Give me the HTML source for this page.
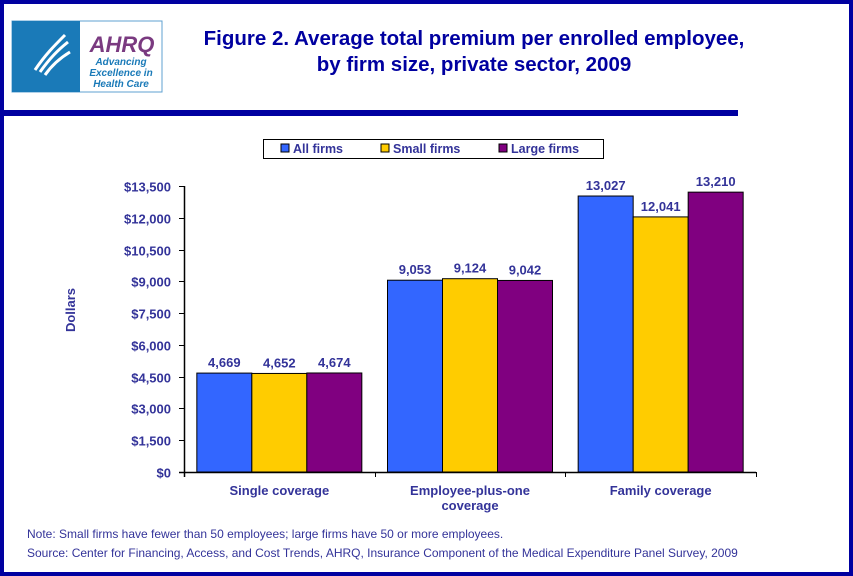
<!DOCTYPE html>
<html><head><meta charset="utf-8"><style>
html,body{margin:0;padding:0;background:#fff}
svg{display:block}
text{font-family:"Liberation Sans",Arial,sans-serif}
</style></head><body>
<svg id="chart" width="853" height="576" viewBox="0 0 853 576" xmlns="http://www.w3.org/2000/svg">
<rect x="2" y="2" width="849" height="572" fill="#fff" stroke="#0000A0" stroke-width="4"/>
<g>
<rect x="12" y="21" width="150" height="71" fill="#fff" stroke="#5fa0d0" stroke-width="1"/>
<rect x="12" y="21" width="68" height="71" fill="#1a7ab8"/>
<path d="M35 70 C45 55 55 45 65 35 M40 72 C50 58 58 50 68 42 M45 75 C52 65 60 58 70 52" stroke="#fff" stroke-width="3" fill="none"/>
<text x="122" y="52" font-size="22" font-weight="bold" font-style="italic" fill="#7a3a80" text-anchor="middle">AHRQ</text>
<text x="121" y="65" font-size="10" font-weight="bold" font-style="italic" fill="#1a7ab8" text-anchor="middle">Advancing</text>
<text x="121" y="76" font-size="10" font-weight="bold" font-style="italic" fill="#1a7ab8" text-anchor="middle">Excellence in</text>
<text x="121" y="87" font-size="10" font-weight="bold" font-style="italic" fill="#1a7ab8" text-anchor="middle">Health Care</text>
</g>
<text x="474" y="45" font-size="20.5" font-weight="bold" fill="#0000A0" text-anchor="middle">Figure 2. Average total premium per enrolled employee,</text>
<text x="474" y="71" font-size="20.5" font-weight="bold" fill="#0000A0" text-anchor="middle">by firm size, private sector, 2009</text>
<rect x="4" y="110" width="734" height="6" fill="#0000A0"/>
<g>
<rect x="263.5" y="139.5" width="340" height="19" fill="#fff" stroke="#000"/>
<rect x="281" y="144" width="8" height="8" fill="#3366FF" stroke="#000"/>
<text x="293" y="153" font-size="12.5" font-weight="bold" fill="#333399">All firms</text>
<rect x="381" y="144" width="8" height="8" fill="#FFCC00" stroke="#000"/>
<text x="393" y="153" font-size="12.5" font-weight="bold" fill="#333399">Small firms</text>
<rect x="499" y="144" width="8" height="8" fill="#800080" stroke="#000"/>
<text x="511" y="153" font-size="12.5" font-weight="bold" fill="#333399">Large firms</text>
</g>
<text transform="translate(75,310) rotate(-90)" font-size="13" font-weight="bold" fill="#333399" text-anchor="middle">Dollars</text>
<g id="plot"></g>
<text x="27" y="538" font-size="12" fill="#333399">Note: Small firms have fewer than 50 employees; large firms have 50 or more employees.</text>
<text x="27" y="557" font-size="12" fill="#333399">Source: Center for Financing, Access, and Cost Trends, AHRQ, Insurance Component of the Medical Expenditure Panel Survey, 2009</text>
</svg>
<script>
const categories = [["Single coverage"], ["Employee-plus-one", "coverage"], ["Family coverage"]];
const allFirms = [4669, 9053, 13027];
const smallFirms = [4652, 9124, 12041];
const largeFirms = [4674, 9042, 13210];
const yTicks = [0, 1500, 3000, 4500, 6000, 7500, 9000, 10500, 12000, 13500];
const yTickLabels = ["$0", "$1,500", "$3,000", "$4,500", "$6,000", "$7,500", "$9,000", "$10,500", "$12,000", "$13,500"];
const seriesNames = ["all", "small", "large"];
const colors = ["#3366FF", "#FFCC00", "#800080"];

const NS = "http://www.w3.org/2000/svg";
const plot = document.getElementById("plot");
const x0 = 184, x1 = 756, yBase = 472, yTop = 186, yMax = 13500;
const yScale = v => yBase - (v / yMax) * (yBase - yTop);
const groupW = (x1 - x0) / categories.length;
const barW = 55, pad = (groupW - 3 * barW) / 2;
function el(tag, attrs, text) {
  const e = document.createElementNS(NS, tag);
  for (const k in attrs) e.setAttribute(k, attrs[k]);
  if (text !== undefined) e.textContent = text;
  plot.appendChild(e);
  return e;
}
yTicks.forEach((t, i) => {
  const y = Math.round(yScale(t)) + 0.5;
  const tk = el("line", {x1: x0 - 5, x2: x0, y1: y, y2: y, stroke: "#000"});
  
  
  const lb = el("text", {x: x0 - 13, y: y + 5, "font-size": 13, "font-weight": "bold", fill: "#333399", "text-anchor": "end"}, yTickLabels[i]);
  
  
});
const series = [allFirms, smallFirms, largeFirms];
categories.forEach((c, ci) => {
  const gx = x0 + ci * groupW;
  series.forEach((s, si) => {
    const bx = gx + pad + si * barW;
    const by = yScale(s[ci]);
    const r = el("rect", {x: bx, y: by, width: barW, height: yBase - by, fill: colors[si], stroke: "#000", "stroke-width": 1});
    
    
    const v = el("text", {x: bx + barW / 2, y: by - 6, "font-size": 13, "font-weight": "bold", fill: "#333399", "text-anchor": "middle"}, s[ci].toLocaleString("en-US"));
    
    
  });
  c.forEach((line, li) => {
    const t = el("text", {x: gx + groupW / 2, y: 495 + li * 15, "font-size": 13, "font-weight": "bold", fill: "#333399", "text-anchor": "middle"}, line);
    
    
  });
  const tk = el("line", {x1: Math.round(gx + groupW) + 0.5, x2: Math.round(gx + groupW) + 0.5, y1: yBase, y2: yBase + 5, stroke: "#000"});
  
  
});
const ya = el("line", {x1: x0 + 0.5, x2: x0 + 0.5, y1: yTop, y2: yBase + 5, stroke: "#000", "stroke-width": 1.5});


const xa = el("line", {x1: x0 - 5, x2: x1, y1: yBase + 0.5, y2: yBase + 0.5, stroke: "#000", "stroke-width": 1.5});


</script>
</body></html>
